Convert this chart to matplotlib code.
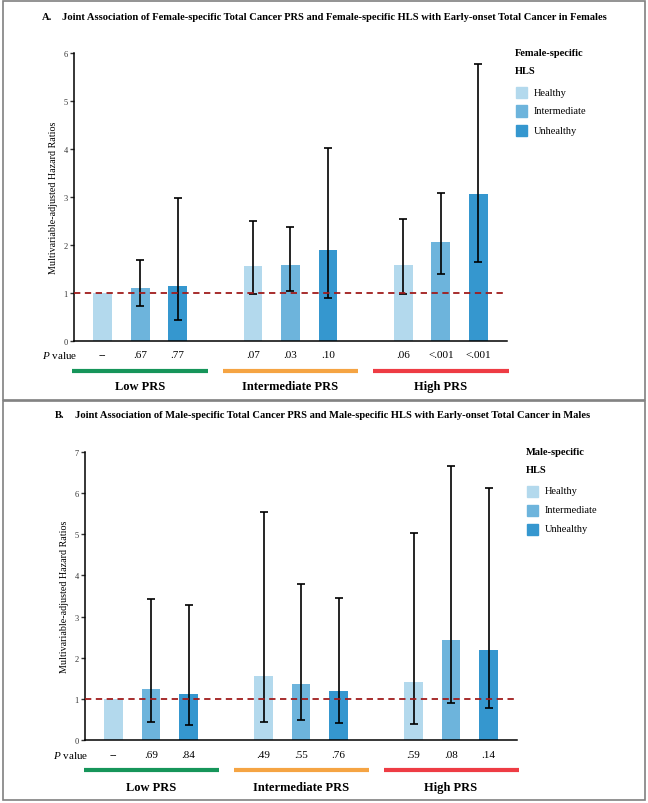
import numpy as np
import matplotlib
matplotlib.use("Agg")
import matplotlib.pyplot as plt
from matplotlib.patches import Rectangle
from matplotlib.transforms import blended_transform_factory

plt.rcParams['font.family'] = ['Liberation Serif', 'DejaVu Serif']
plt.rcParams['mathtext.fontset'] = 'custom'
plt.rcParams['mathtext.rm'] = 'Liberation Serif'
plt.rcParams['mathtext.it'] = 'Liberation Serif:italic'

# data
prs_groups = ["Low PRS", "Intermediate PRS", "High PRS"]
hls_levels = ["Healthy", "Intermediate", "Unhealthy"]

female_hr = [1.00, 1.11, 1.15, 1.56, 1.58, 1.90, 1.58, 2.06, 3.07]
female_lo = [1.00, 0.73, 0.44, 0.97, 1.05, 0.89, 0.98, 1.39, 1.65]
female_hi = [1.00, 1.68, 2.98, 2.50, 2.37, 4.02, 2.54, 3.08, 5.78]
female_p = ["--", ".67", ".77", ".07", ".03", ".10", ".06", "<.001", "<.001"]

male_hr = [1.00, 1.23, 1.12, 1.56, 1.36, 1.18, 1.40, 2.44, 2.18]
male_lo = [1.00, 0.44, 0.37, 0.44, 0.49, 0.41, 0.39, 0.89, 0.78]
male_hi = [1.00, 3.43, 3.29, 5.55, 3.78, 3.44, 5.03, 6.67, 6.12]
male_p = ["--", ".69", ".84", ".49", ".55", ".76", ".59", ".08", ".14"]

bar_colors = ["#b3d9ed", "#6db4dc", "#3597cf"]
line_colors = ["#16955a", "#f5a443", "#ee3c44"]

W, H = 648, 804
fig = plt.figure(figsize=(W / 100, H / 100), dpi=100)


def fx(x):
    return x / W


def fy(y):
    return 1 - y / H


def panel(box, ymax, hr, lo, hi, pvals, letter, title, title_x, sex, leg_x, leg_y, rows):
    left, top, right, bottom = box
    ax = fig.add_axes([fx(left), fy(bottom), fx(right - left), (bottom - top) / H])

    x = np.array([g * 4 + k for g in range(3) for k in range(3)])
    hr = np.array(hr)
    lo = np.array(lo)
    hi = np.array(hi)
    cols = [bar_colors[k] for g in range(3) for k in range(3)]
    ax.bar(x, hr, width=0.5, color=cols, zorder=2)
    # reference group has no interval
    ax.errorbar(x[1:], hr[1:], yerr=[hr[1:] - lo[1:], hi[1:] - hr[1:]], fmt='none',
                ecolor='black', elinewidth=1.2, capsize=3.2, capthick=1.2, zorder=3)
    ax.axhline(1.0, color='#a01c1c', lw=1.3, ls=(0, (3.5, 2.5)), zorder=4)

    ax.set_xlim(-0.76, 10.76)
    ax.set_ylim(0, ymax)
    ax.set_yticks(range(ymax + 1))
    ax.set_xticks([])
    for s in ['top', 'right']:
        ax.spines[s].set_visible(False)
    for s in ['left', 'bottom']:
        ax.spines[s].set_linewidth(1.1)
    ax.tick_params(axis='y', length=3, width=1, labelsize=6, pad=1.5, colors='#333333')
    ax.set_ylabel("Multivariable-adjusted Hazard Ratios", fontsize=7.2, labelpad=4)

    tr = blended_transform_factory(ax.transData, fig.transFigure)
    ax.text(-0.68, fy(rows[0]), r"$\it{P}$ value", transform=tr, ha='right', va='center',
            fontsize=8, clip_on=False)
    for xi, p in zip(x, pvals):
        ax.text(xi, fy(rows[0]), p, transform=tr, ha='center', va='center', fontsize=8)
    for g in range(3):
        c = g * 4 + 1
        ax.plot([c - 1.8, c + 1.8], [fy(rows[1]), fy(rows[1])], transform=tr, color=line_colors[g],
                lw=3, solid_capstyle='butt', clip_on=False)
        ax.text(c, fy(rows[2]), prs_groups[g], transform=tr, ha='center', va='center',
                fontsize=9, fontweight='bold')

    # title
    fig.text(fx(title_x), fy(top - 36 if False else rows[3]), letter, ha='left', va='center',
             fontsize=7.6, fontweight='bold')
    fig.text(fx(title_x + 20), fy(rows[3]), title, ha='left', va='center',
             fontsize=7.6, fontweight='bold')

    # legend
    fig.text(fx(leg_x), fy(leg_y), sex, ha='left', va='center', fontsize=7.5, fontweight='bold')
    fig.text(fx(leg_x), fy(leg_y + 18), "HLS", ha='left', va='center', fontsize=7.5, fontweight='bold')
    for k in range(3):
        yc = leg_y + 39 + 19 * k
        fig.patches.append(Rectangle((fx(leg_x + 1), fy(yc + 5.5)), fx(11), 11 / H,
                                     transform=fig.transFigure, color=bar_colors[k]))
        fig.text(fx(leg_x + 19), fy(yc), hls_levels[k], ha='left', va='center', fontsize=7.5)
    return ax


panel((74, 54, 507, 342), 6, female_hr, female_lo, female_hi, female_p, "A.",
      "Joint Association of Female-specific Total Cancer PRS and Female-specific HLS with Early-onset Total Cancer in Females",
      42, "Female-specific", 515, 54, (356, 372, 387, 18))

panel((85, 453, 517, 741), 7, male_hr, male_lo, male_hi, male_p, "B.",
      "Joint Association of Male-specific Total Cancer PRS and Male-specific HLS with Early-onset Total Cancer in Males",
      55, "Male-specific", 526, 453, (756, 771, 788, 416))

# panel frames
for y0, y1 in [(2, 401), (402, 801)]:
    fig.patches.append(Rectangle((fx(3), fy(y1)), fx(642), (y1 - y0) / H, transform=fig.transFigure,
                                 fill=False, edgecolor='#808080', lw=1.2))

fig.savefig("out.png", dpi=100)
